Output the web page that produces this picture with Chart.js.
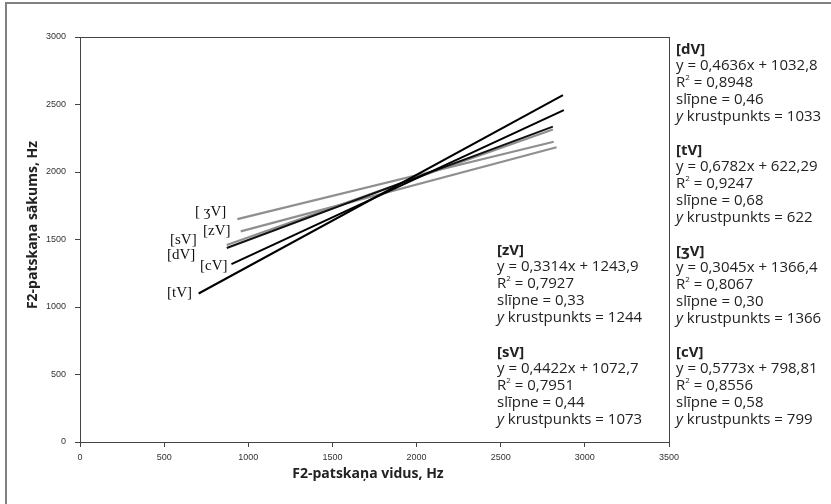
<!DOCTYPE html>
<html>
<head>
<meta charset="utf-8">
<script src="https://cdn.jsdelivr.net/npm/chart.js@4/dist/chart.umd.min.js"></script>
<style>
  html, body { margin: 0; padding: 0; background: #fff; }
  #wrap { width: 831px; height: 504px; position: relative; }
</style>
</head>
<body>
<div id="wrap"><canvas id="chart" width="831" height="504"></canvas></div>
<script>
// regression lines: start and end x, matching y
const seriesNames = ['tV', 'cV', 'dV', 'sV', 'ʒV', 'zV'];
const xStart = [705, 900, 872, 872, 935, 955];
const xEnd = [2870, 2875, 2810, 2810, 2815, 2832];
const yStart = [1100, 1318, 1437, 1459, 1651, 1560];
const yEnd = [2569, 2459, 2336, 2315, 2224, 2183];
const lineColors = ['#000', '#000', '#111', '#8f8f8f', '#8f8f8f', '#8f8f8f'];

const xTicks = [0, 500, 1000, 1500, 2000, 2500, 3000, 3500];
const yTicks = [0, 500, 1000, 1500, 2000, 2500, 3000];

// equation blocks: name, equation, R2, slope, intercept
const notes = [
  ['dV', '0,4636x + 1032,8', '0,8948', '0,46', '1033'],
  ['tV', '0,6782x + 622,29', '0,9247', '0,68', '622'],
  ['ʒV', '0,3045x + 1366,4', '0,8067', '0,30', '1366'],
  ['cV', '0,5773x + 798,81', '0,8556', '0,58', '799'],
  ['zV', '0,3314x + 1243,9', '0,7927', '0,33', '1244'],
  ['sV', '0,4422x + 1072,7', '0,7951', '0,44', '1073']
];
const notePos = [[676, 50], [676, 151], [676, 252], [676, 353], [497, 251], [497, 353]];

// serif labels at the left ends of the lines
const leftLabels = ['[ ʒV]', '[zV]', '[sV]', '[dV]', '[cV]', '[tV]'];
const leftLabelPos = [[195, 212], [203, 231], [170, 240], [167, 255], [200, 266], [167, 293]];

const datasets = seriesNames.map((n, i) => ({
  label: n,
  data: [{ x: xStart[i], y: yStart[i] }, { x: xEnd[i], y: yEnd[i] }],
  borderColor: lineColors[i],
  borderWidth: i < 3 ? 2 : 2.2,
  pointRadius: 0,
  showLine: true,
  fill: false
}));

const textFont = '"Open Sans", "Noto Sans", sans-serif';

const decor = {
  id: 'decor',
  beforeDraw(chart) {
    const c = chart.ctx;
    c.save();
    c.fillStyle = '#fff';
    c.fillRect(0, 0, chart.width, chart.height);
    c.strokeStyle = '#808080';
    c.lineWidth = 2;
    c.strokeRect(6, 3, 900, 600);
    c.restore();
  },
  afterDraw(chart) {
    const c = chart.ctx;
    const a = chart.chartArea;
    c.save();
    c.strokeStyle = '#444';
    c.lineWidth = 1;
    c.strokeRect(Math.round(a.left) + 0.5, Math.round(a.top) + 0.5, Math.round(a.right - a.left), Math.round(a.bottom - a.top));

    // axis titles
    c.fillStyle = '#222';
    c.font = 'bold 14px ' + textFont;
    c.textAlign = 'center';
    c.textBaseline = 'middle';
    c.fillText('F2-patskaņa vidus, Hz', 368, 474);
    c.save();
    c.translate(33, 225);
    c.rotate(-Math.PI / 2);
    c.fillText('F2-patskaņa sākums, Hz', 0, 0);
    c.restore();

    // equation blocks
    c.textAlign = 'left';
    const fs = '15px ';
    notes.forEach((n, i) => {
      let [x, y] = notePos[i];
      c.font = 'bold ' + fs + textFont;
      c.fillText('[' + n[0] + ']', x, y);
      c.font = fs + textFont;
      c.fillText('y = ' + n[1], x, y + 16);
      c.fillText('R', x, y + 33);
      let w = c.measureText('R').width;
      c.font = '8px ' + textFont;
      c.fillText('2', x + w, y + 28);
      let w2 = c.measureText('2').width;
      c.font = fs + textFont;
      c.fillText(' = ' + n[2], x + w + w2, y + 33);
      c.fillText('slīpne = ' + n[3], x, y + 50);
      c.font = 'italic ' + fs + textFont;
      c.fillText('y', x, y + 67);
      let wy = c.measureText('y').width;
      c.font = fs + textFont;
      c.fillText(' krustpunkts = ' + n[4], x + wy, y + 67);
    });

    // line labels
    c.font = '15px "Liberation Serif", "DejaVu Serif", serif';
    c.fillStyle = '#111';
    leftLabels.forEach((t, i) => {
      c.fillText(t, leftLabelPos[i][0], leftLabelPos[i][1]);
    });
    c.restore();
  }
};

const tickFont = { family: '"Liberation Sans", Arial, sans-serif', size: 9 };

new Chart(document.getElementById('chart'), {
  type: 'scatter',
  data: { datasets },
  options: {
    responsive: false,
    animation: false,
    layout: { padding: { left: 0, top: 37, right: 162, bottom: 0 } },
    plugins: { legend: { display: false }, tooltip: { enabled: false } },
    scales: {
      x: {
        type: 'linear',
        min: 0, max: 3500,
        afterBuildTicks: s => { s.ticks = xTicks.map(v => ({ value: v })); },
        afterFit: s => { s.height = 504 - 442; },
        grid: { drawOnChartArea: false, color: '#444', tickLength: 5 },
        border: { color: '#444' },
        ticks: { font: tickFont, color: '#333', padding: 5, maxRotation: 0, callback: v => String(v) }
      },
      y: {
        type: 'linear',
        min: 0, max: 3000,
        afterBuildTicks: s => { s.ticks = yTicks.map(v => ({ value: v })); },
        afterFit: s => { s.width = 80; },
        grid: { drawOnChartArea: false, color: '#444', tickLength: 5 },
        border: { color: '#444' },
        ticks: { font: tickFont, color: '#333', padding: 9, callback: v => String(v) }
      }
    }
  },
  plugins: [decor]
});
</script>
</body>
</html>
